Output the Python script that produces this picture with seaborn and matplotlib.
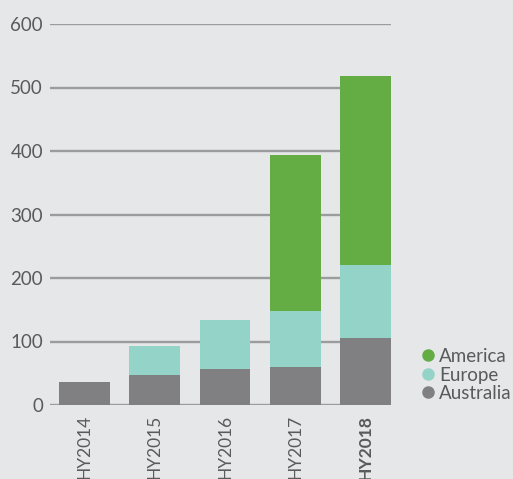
import matplotlib
matplotlib.use("Agg")
import matplotlib.pyplot as plt
from matplotlib.lines import Line2D
import numpy as np
import pandas as pd
import seaborn as sns

periods = ["HY2014", "HY2015", "HY2016", "HY2017", "HY2018"]
australia = [36, 47, 57, 60, 105]
europe = [0, 46, 77, 88, 115]
america = [0, 0, 0, 246, 298]

colors = {"America": "#64ad45", "Europe": "#93d3c8", "Australia": "#808083"}
bg = "#e6e7e9"
text_color = "#5a5a5c"

sns.set_theme(style="white")
plt.rcParams["font.family"] = ["Lato", "DejaVu Sans"]

cum_eu = np.array(australia) + np.array(europe)
cum_am = cum_eu + np.array(america)
df = pd.DataFrame({
    "period": periods,
    "Australia": australia,
    "Europe": cum_eu,
    "America": cum_am,
})

fig = plt.figure(figsize=(5.13, 4.79), dpi=100, facecolor=bg)
ax = fig.add_axes([50 / 513, 74 / 479, 341 / 513, 381 / 479])
ax.set_facecolor(bg)

for ylev in range(0, 700, 100):
    ax.axhline(ylev, color="#9c9c9e", lw=1.7, zorder=0)

for series in ["America", "Europe", "Australia"]:
    sns.barplot(data=df, x="period", y=series, color=colors[series],
                width=0.725, saturation=1, linewidth=0, ax=ax, zorder=2)

ax.set_ylim(0, 600)
ax.set_xlim(-0.49, 4.362)
ax.set_yticks(range(0, 700, 100))
ax.set_xlabel("")
ax.set_ylabel("")
for s in ax.spines.values():
    s.set_visible(False)

ax.tick_params(axis="y", length=0, pad=5, labelsize=13.5, labelcolor=text_color)
ax.tick_params(axis="x", length=0, pad=7, labelsize=12.5, labelcolor=text_color,
               labelrotation=90)
for lbl in ax.get_xticklabels():
    lbl.set_verticalalignment("top")
    if lbl.get_text() == "HY2018":
        lbl.set_fontweight("bold")

handles = [Line2D([0], [0], marker="o", linestyle="", markersize=8,
                  markerfacecolor=colors[k], markeredgecolor=colors[k], label=k)
           for k in ["America", "Europe", "Australia"]]
fig.legend(handles=handles, loc="center left", bbox_to_anchor=(412 / 513, 1 - 375 / 479),
           frameon=False, handletextpad=0.15, labelspacing=0.08, fontsize=13.5,
           labelcolor=text_color, borderaxespad=0, handlelength=0.9)

fig.savefig("out.png", dpi=100, facecolor=bg)
